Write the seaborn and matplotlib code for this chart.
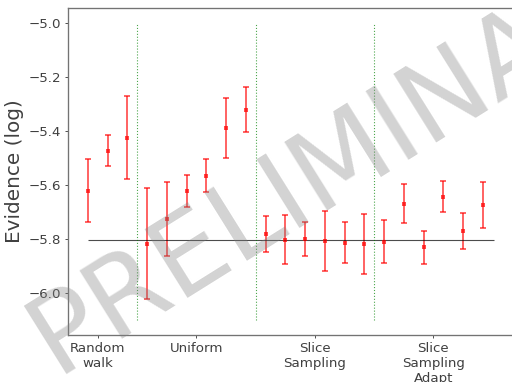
import numpy as np
import pandas as pd
import matplotlib
matplotlib.use("Agg")
import matplotlib.pyplot as plt
import seaborn as sns


# =========================================================
# DATA
# =========================================================

METHODS = ["Random\nwalk", "Uniform", "Slice\nSampling", "Slice\nSampling\nAdapt"]
GROUP_SIZES = [3, 6, 6, 6]
TICK_POS = [0.5, 5.5, 11.5, 17.5]

random_walk_mean = [-5.619, -5.472, -5.423]
random_walk_err = [0.116, 0.058, 0.155]

uniform_mean = [-5.816, -5.725, -5.621, -5.564, -5.387, -5.320]
uniform_err = [0.205, 0.138, 0.059, 0.060, 0.112, 0.084]

slice_mean = [-5.780, -5.801, -5.798, -5.805, -5.812, -5.816]
slice_err = [0.068, 0.091, 0.063, 0.112, 0.076, 0.111]

adapt_mean = [-5.808, -5.668, -5.830, -5.642, -5.770, -5.673]
adapt_err = [0.080, 0.072, 0.061, 0.058, 0.067, 0.085]

REFERENCE = -5.803


# =========================================================
# TABLE
# =========================================================

means = random_walk_mean + uniform_mean + slice_mean + adapt_mean
errs = random_walk_err + uniform_err + slice_err + adapt_err

df = pd.DataFrame({
    "run": np.arange(len(means)),
    "evidence": means,
    "err": errs,
})

# group boundaries (between last run of one group and first of next)
bounds = np.cumsum(GROUP_SIZES)[:-1] - 0.5


# =========================================================
# PLOT
# =========================================================

sns.set_style("ticks")
plt.rcParams["font.family"] = ["DejaVu Sans"]

fig = plt.figure(figsize=(6.4, 4.775), dpi=80)
ax = fig.add_axes([68 / 512, 1 - 334.7 / 382, 444.4 / 512, 326.7 / 382])

ax.errorbar(
    df["run"],
    df["evidence"],
    yerr=df["err"],
    fmt="none",
    ecolor="red",
    elinewidth=1.8,
    capsize=3,
    capthick=1.8,
    alpha=0.6,
)

sns.scatterplot(
    data=df,
    x="run",
    y="evidence",
    color="red",
    marker="s",
    s=10,
    linewidth=0,
    alpha=0.7,
    ax=ax,
    zorder=3,
)

ax.hlines(REFERENCE, df["run"].iloc[0], df["run"].iloc[-1] + 0.55,
          color="black", linewidth=1, alpha=0.7)

ax.vlines(bounds, -6.1, -5.0, color="green", linestyle=":",
          linewidth=1, alpha=0.7)

ax.set_xlim(-1, 21.5)
ax.set_ylim(-6.153, -4.943)

ax.set_xticks(TICK_POS)
ax.set_xticklabels(METHODS)
ax.set_yticks([-6.0, -5.8, -5.6, -5.4, -5.2, -5.0])

ax.tick_params(labelsize=12, colors="0.25", length=3)
ax.set_xlabel("")
ax.set_ylabel("Evidence (log)", fontsize=18, color="0.25")

for side in ["left", "bottom", "top"]:
    ax.spines[side].set_color("0.45")
    ax.spines[side].set_linewidth(1.2)
ax.spines["right"].set_visible(False)

fig.text(
    0.683, 0.598, "PRELIMINARY",
    fontsize=100,
    color="gray",
    alpha=0.35,
    ha="center",
    va="center",
    rotation=32,
)

fig.savefig("out.png", dpi=80)
